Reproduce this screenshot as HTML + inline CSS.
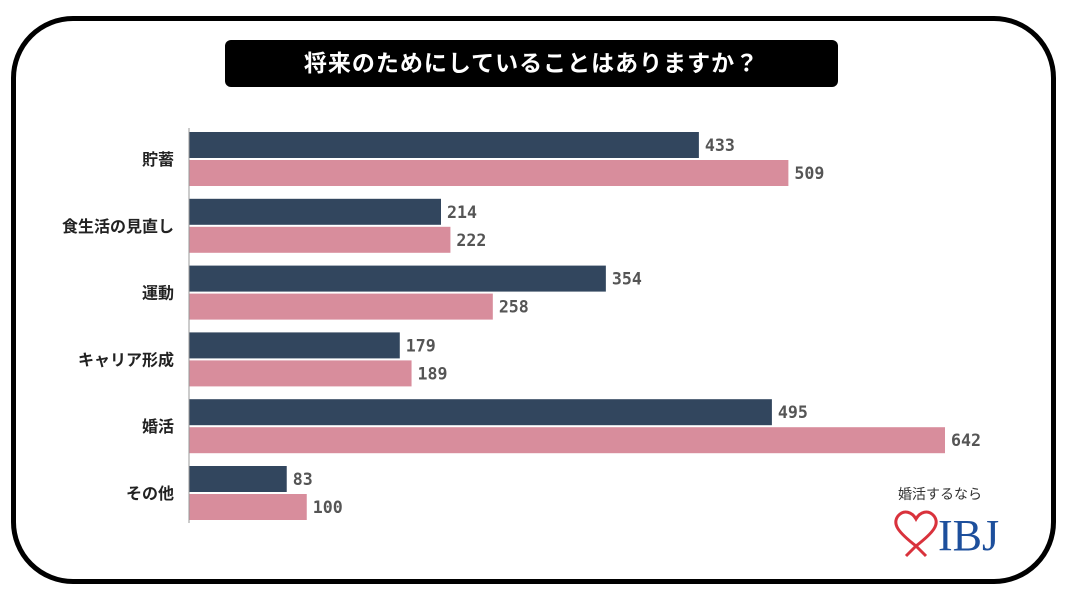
<!DOCTYPE html>
<html><head><meta charset="utf-8"><style>
body{margin:0;background:#fff;width:1066px;height:596px;overflow:hidden;position:relative;font-family:"Liberation Sans","Noto Sans CJK JP",sans-serif}
#frame{position:absolute;left:11px;top:16px;width:1035px;height:558px;border:5px solid #000;border-radius:62px}
#title{position:absolute;left:225px;top:40px;width:613px;height:47px;background:#000;border-radius:6px;color:#fff;font-size:23px;font-weight:bold;text-align:center;line-height:47px;letter-spacing:1px}
</style></head><body>
<div id="frame"></div>
<div id="title">将来のためにしていることはありますか？</div>
<svg id="chart" width="1066" height="596" style="position:absolute;left:0;top:0"></svg>
<div style="position:absolute;left:890px;top:484px;width:110px;height:80px">
<div style="font-size:14px;color:#333;text-align:center;width:100px">婚活するなら</div>
<svg width="110" height="56" style="position:absolute;left:0;top:22px">
<path d="M26 40 C8 26 2 18 8 10 C14 3 22 6 26 13 C30 6 38 3 44 10 C50 18 44 26 26 40 M26 40 L16 50 M26 40 L36 50" fill="none" stroke="#d9323c" stroke-width="3"/>
<text x="48" y="44" font-family="Liberation Serif,serif" font-size="44" fill="#1d4f9c">IBJ</text>
</svg></div>
<script>
const categories=["貯蓄","食生活の見直し","運動","キャリア形成","婚活","その他"];
const seriesA=[433,214,354,179,495,83];
const seriesB=[509,222,258,189,642,100];
const svg=document.getElementById('chart');
const NS="http://www.w3.org/2000/svg";
const x0=189,scale=(945-189)/642;
const xs=v=>x0+v*scale;
const gy=i=>132+i*66.8;
const bh=26;
function mk(t,a){const e=document.createElementNS(NS,t);for(const k in a)e.setAttribute(k,a[k]);svg.appendChild(e);return e;}
categories.forEach((c,i)=>{
 const y=gy(i);
 const l=mk('text',{x:174,y:y+bh+7,'text-anchor':'end','font-size':16,'font-weight':'bold',fill:'#222'});
 l.textContent=c;
 
 
 [[seriesA[i],'#32465e',y],[seriesB[i],'#d88d9c',y+bh+2]].forEach(([v,col,yy],k)=>{
  const r=mk('rect',{x:x0,y:yy,width:xs(v)-x0,height:bh,fill:col});
  
  
  const t=mk('text',{x:xs(v)+6,y:yy+19,'font-size':17,'font-weight':'bold',fill:'#555','font-family':'DejaVu Sans Mono,monospace','textLength':String(v).length*10,'lengthAdjust':'spacingAndGlyphs'});
  t.textContent=v;
  
  
 });
});
const ax=mk('line',{x1:x0,y1:128,x2:x0,y2:523,stroke:'#999','stroke-width':1});


</script>
</body></html>
